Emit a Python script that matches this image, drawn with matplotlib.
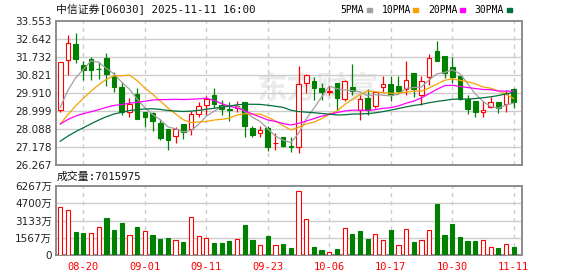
import numpy as np
import pandas as pd
import matplotlib
matplotlib.use('Agg')
import matplotlib.pyplot as plt
from matplotlib.patches import Rectangle

# Daily candles (HKD), 2025-08-15 .. 2025-11-11
opens = [29.07, 31.56, 32.39, 31.33, 31.63, 31.12, 31.68, 30.75, 30.21, 28.96,
         29.86, 28.95, 28.91, 28.37, 28.07, 27.75, 28.32, 28.09, 28.86, 29.28,
         29.81, 29.30, 29.10, 29.17, 29.44, 28.14, 27.90, 28.14, 27.38, 27.68,
         27.22, 27.16, 30.40, 30.50, 30.16, 29.96, 30.40, 29.61, 30.21, 29.07,
         29.67, 29.24, 30.23, 30.37, 30.25, 30.11, 30.90, 29.82, 30.74, 32.03,
         31.78, 31.22, 30.79, 29.61, 29.50, 28.95, 29.20, 29.44, 29.34, 30.09]
highs = [31.49, 32.86, 32.96, 31.55, 31.75, 31.49, 31.95, 30.95, 30.45, 29.66,
         30.15, 28.97, 28.95, 28.59, 28.07, 28.20, 28.32, 29.00, 29.45, 29.77,
         30.15, 29.55, 29.44, 29.49, 29.46, 28.22, 28.22, 28.26, 27.89, 27.68,
         27.68, 31.26, 30.89, 30.70, 30.40, 30.25, 30.40, 30.57, 31.39, 29.79,
         30.09, 30.03, 30.77, 30.77, 30.77, 31.55, 30.90, 30.75, 31.88, 32.56,
         31.78, 31.71, 30.79, 29.81, 29.50, 29.49, 29.73, 29.44, 30.04, 30.14]
lows = [28.93, 30.84, 31.44, 30.55, 30.57, 30.63, 30.28, 29.96, 28.78, 28.71,
        28.60, 28.21, 27.97, 27.51, 27.04, 27.36, 27.60, 27.78, 28.71, 28.81,
        29.15, 28.81, 28.49, 28.93, 27.70, 27.70, 27.67, 26.99, 27.01, 27.16,
        26.91, 26.87, 29.91, 29.57, 29.57, 29.79, 29.07, 29.52, 29.79, 28.53,
        28.78, 29.15, 29.94, 29.49, 29.91, 29.82, 29.69, 29.28, 30.33, 31.52,
        30.67, 30.42, 29.56, 28.85, 28.68, 28.69, 29.15, 28.90, 28.97, 29.15]
closes = [31.46, 32.44, 31.65, 31.06, 31.08, 31.10, 30.89, 30.23, 28.96, 29.34,
          28.61, 28.70, 28.51, 27.65, 27.53, 28.09, 27.94, 28.83, 29.23, 29.60,
          29.34, 29.08, 29.06, 29.25, 28.22, 27.80, 28.02, 27.19, 27.40, 27.21,
          27.18, 30.35, 30.80, 30.18, 29.97, 30.00, 29.66, 30.50, 30.03, 29.61,
          29.03, 29.96, 30.35, 29.86, 30.03, 30.55, 30.13, 30.50, 31.66, 31.55,
          30.92, 30.74, 29.59, 29.12, 28.95, 29.04, 29.44, 29.15, 29.91, 29.47]
# closes of the 29 sessions before the window (needed for the moving averages)
prev_closes = [24.6, 24.9, 25.2, 25.0, 25.5, 25.8, 26.1, 26.4, 26.7, 27.1,
               27.8, 28.2, 28.6, 29.2, 29.0, 28.5, 28.3, 28.1, 27.9, 27.8,
               27.6, 27.3, 27.2, 27.5, 27.8, 28.2, 28.5, 28.9, 28.94]
# volume, in 10k shares
volumes = [4362, 4086, 2089, 1997, 1966, 2519, 3379, 2273, 2918, 1782,
           2550, 2150, 1812, 1444, 1536, 1321, 1167, 3441, 1690, 1505,
           1075, 1075, 1260, 1413, 2734, 1352, 952, 1720, 952, 983,
           614, 5837, 3256, 707, 430, 307, 522, 2427, 1905, 2181,
           1444, 1874, 1321, 2273, 952, 2335, 1167, 1321, 2243, 4669,
           1812, 2826, 1628, 1260, 1260, 1321, 768, 614, 1044, 702]

date_pos = [3, 11, 19, 27, 35, 43, 51, 59]
date_labels = ['08-20', '09-01', '09-11', '09-23', '10-06', '10-17', '10-30', '11-11']
price_ticks = [26.267, 27.178, 28.088, 28.999, 29.910, 30.821, 31.732, 32.642, 33.553]
vol_ticks = [0, 1567, 3133, 4700, 6267]
ma_periods = [5, 10, 20, 30]
ma_colors = ['#a0a0a0', '#f5a300', '#ff00ff', '#00703c']

RED = '#ff0000'
GREEN = '#008000'
GRID = '#cccccc'
FRAME = '#8c8c8c'
CJK = ['DejaVu Sans Mono', 'Noto Sans CJK SC']

W, H = 578, 276


def fx(px):
    return px / W


def fy(py):
    return 1 - py / H


o = np.array(opens)
h = np.array(highs)
l = np.array(lows)
c = np.array(closes)
x = np.arange(len(c))

fig = plt.figure(figsize=(W / 100, H / 100), dpi=100)
ax = fig.add_axes([fx(56), fy(165), fx(522) - fx(56), (165 - 21) / H])
axv = fig.add_axes([fx(56), fy(255), fx(522) - fx(56), (255 - 186) / H], sharex=ax)

# candles
up = c >= o
col = np.where(up, RED, GREEN)
face = np.where(up, 'white', GREEN)
ax.vlines(x, l, h, colors=col, lw=0.9, zorder=2)
ax.bar(x, np.maximum(np.abs(c - o), 0.02), bottom=np.minimum(o, c), width=0.6,
       color=face, edgecolor=col, lw=0.8, zorder=3)

# moving averages
allc = pd.Series(prev_closes + closes)
for n, mc in zip(ma_periods, ma_colors):
    ma = allc.rolling(n).mean().values[len(prev_closes):]
    ax.plot(x, ma, color=mc, lw=0.9, zorder=4)

# volume, coloured by close vs previous close
prev = np.concatenate([[prev_closes[-1]], c[:-1]])
vup = c >= prev
axv.bar(x, volumes, width=0.55, color=np.where(vup, 'white', GREEN),
        edgecolor=np.where(vup, RED, GREEN), lw=0.8, zorder=3)

for a, ticks in ((ax, price_ticks), (axv, vol_ticks)):
    a.set_xlim(-0.56, 60.08)
    a.set_ylim(ticks[0], ticks[-1])
    a.set_yticks(ticks)
    for t in ticks[1:-1]:
        a.axhline(t, color=GRID, lw=1, zorder=1)
    for p in date_pos:
        a.axvline(p, color=GRID, lw=1, ls=(0, (3, 3)), zorder=1)
    for s in a.spines.values():
        s.set_color(FRAME)
        s.set_linewidth(1.4)
    a.tick_params(length=0, pad=3, labelsize=7.5, labelcolor='#222222')

ax.set_yticklabels([f'{t:.3f}' for t in price_ticks])
axv.set_yticklabels(['0'] + [f'{t}万' for t in vol_ticks[1:]], family=['DejaVu Sans', 'Noto Sans CJK SC'])
ax.set_xticks(date_pos)
ax.tick_params(axis='x', labelbottom=False)
axv.set_xticks(date_pos)
axv.set_xticklabels(date_labels, color=RED, family='DejaVu Sans Mono', fontsize=7.5)
axv.tick_params(axis='x', pad=5)

# watermark
ax.text(0.56, 0.53, '东方财富', transform=ax.transAxes, ha='center', va='center',
        fontsize=22, color='#ebebeb', family='Noto Sans CJK SC', fontweight='bold', zorder=0)

# header
fig.text(fx(56), fy(10), '中信证券[06030] 2025-11-11 16:00', family=CJK, fontsize=7.8,
         va='center', ha='left', color='#111111')
leg = [('5PMA', 340, 367), ('10PMA', 382, 413), ('20PMA', 428, 460), ('30PMA', 474, 507)]
for (name, tx, sx), mc in zip(leg, ma_colors):
    fig.text(fx(tx), fy(10), name, family='DejaVu Sans Mono', fontsize=7, va='center', ha='left')
    fig.patches.append(Rectangle((fx(sx), fy(12)), 5 / W, 4 / H, transform=fig.transFigure,
                                 color=mc, figure=fig))
fig.text(fx(57), fy(177), '成交量:7015975', family=CJK, fontsize=7.8, va='center', ha='left',
         color='#111111')

fig.savefig('out.png', dpi=100)
